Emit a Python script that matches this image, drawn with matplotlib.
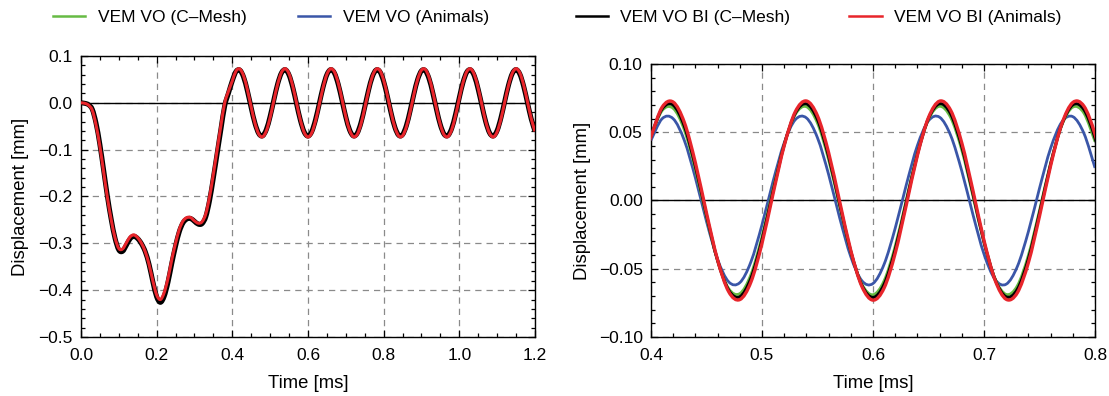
import numpy as np
import matplotlib
matplotlib.use("Agg")
import matplotlib.pyplot as plt
from matplotlib.path import Path
from matplotlib.patches import PathPatch
from matplotlib.lines import Line2D
from matplotlib.ticker import MultipleLocator, FuncFormatter

plt.rcParams["font.family"] = ["Liberation Sans", "DejaVu Sans"]
plt.rcParams["figure.facecolor"] = "white"

# --- data (time in ms, displacement in mm) ---
time_ms = np.linspace(0.0, 1.2, 121)

vo_bi_animals = [
    0.000, -0.001, -0.005, -0.016, -0.048, -0.093, -0.148, -0.203, -0.250, -0.288,
    -0.311, -0.312, -0.299, -0.286, -0.282, -0.288, -0.300, -0.318, -0.345, -0.380,
    -0.410, -0.420, -0.405, -0.375, -0.335, -0.300, -0.270, -0.252, -0.245, -0.245,
    -0.252, -0.257, -0.254, -0.237, -0.200, -0.152, -0.100, -0.048, 0.000, 0.025,
    0.0468, 0.0683, 0.0721, 0.0573, 0.0276, -0.0092, -0.0436, -0.0668, -0.0726, -0.0598,
    -0.0314, 0.0051, 0.0402, 0.0650, 0.0729, 0.0620, 0.0351, -0.0009, -0.0367, -0.0630,
    -0.0730, -0.0641, -0.0386, -0.0032, 0.0331, 0.0608, 0.0728, 0.0660, 0.0421, 0.0073,
    -0.0294, -0.0584, -0.0724, -0.0676, -0.0454, -0.0114, 0.0255, 0.0559, 0.0718, 0.0691,
    0.0485, 0.0154, -0.0216, -0.0531, -0.0709, -0.0703, -0.0515, -0.0195, 0.0177, 0.0502,
    0.0698, 0.0713, 0.0544, 0.0234, -0.0136, -0.0472, -0.0685, -0.0721, -0.0571, -0.0273,
    0.0096, 0.0439, 0.0669, 0.0726, 0.0595, 0.0311, -0.0054, -0.0406, -0.0652, -0.0729,
    -0.0618, -0.0347, 0.0013, 0.0370, 0.0632, 0.0730, 0.0639, 0.0383, 0.0028, -0.0334,
    -0.0610,
]

vo_bi_cmesh = [
    0.000, -0.001, -0.004, -0.014, -0.044, -0.089, -0.144, -0.200, -0.249, -0.289,
    -0.314, -0.317, -0.304, -0.290, -0.285, -0.290, -0.301, -0.318, -0.345, -0.382,
    -0.414, -0.426, -0.413, -0.383, -0.343, -0.306, -0.275, -0.256, -0.248, -0.247,
    -0.253, -0.259, -0.258, -0.243, -0.208, -0.160, -0.108, -0.056, -0.006, 0.021,
    0.0470, 0.0671, 0.0699, 0.0546, 0.0251, -0.0108, -0.0439, -0.0657, -0.0705, -0.0570,
    -0.0289, 0.0068, 0.0407, 0.0640, 0.0708, 0.0593, 0.0325, -0.0028, -0.0373, -0.0622,
    -0.0710, -0.0614, -0.0360, -0.0012, 0.0338, 0.0602, 0.0709, 0.0634, 0.0394, 0.0052,
    -0.0303, -0.0579, -0.0706, -0.0651, -0.0427, -0.0092, 0.0266, 0.0555, 0.0701, 0.0666,
    0.0458, 0.0132, -0.0228, -0.0529, -0.0694, -0.0679, -0.0488, -0.0171, 0.0190, 0.0502,
    0.0684, 0.0689, 0.0516, 0.0210, -0.0151, -0.0473, -0.0672, -0.0698, -0.0543, -0.0248,
    0.0111, 0.0442, 0.0658, 0.0704, 0.0568, 0.0285, -0.0071, -0.0410, -0.0642, -0.0708,
    -0.0591, -0.0321, 0.0031, 0.0376, 0.0624, 0.0710, 0.0613, 0.0357, 0.0009, -0.0342,
    -0.0604,
]

time_zoom_ms = np.linspace(0.4, 0.8, 41)

vo_cmesh = [
    0.0470, 0.0658, 0.0675, 0.0518, 0.0227, -0.0122, -0.0441, -0.0645, -0.0682, -0.0543,
    -0.0264, 0.0084, 0.0410, 0.0630, 0.0687, 0.0566, 0.0299, -0.0045, -0.0378, -0.0613,
    -0.0690, -0.0588, -0.0334, 0.0006, 0.0345, 0.0594, 0.0690, 0.0607, 0.0368, 0.0033,
    -0.0310, -0.0573, -0.0688, -0.0625, -0.0400, -0.0072, 0.0275, 0.0550, 0.0684, 0.0640,
    0.0431,
]

vo_animals = [
    0.0441, 0.0599, 0.0599, 0.0441, 0.0166, -0.0153, -0.0431, -0.0596, -0.0602, -0.0450,
    -0.0178, 0.0141, 0.0422, 0.0592, 0.0605, 0.0459, 0.0191, -0.0128, -0.0412, -0.0588,
    -0.0608, -0.0467, -0.0203, 0.0115, 0.0403, 0.0584, 0.0610, 0.0476, 0.0215, -0.0102,
    -0.0393, -0.0579, -0.0613, -0.0484, -0.0227, 0.0090, 0.0383, 0.0574, 0.0614, 0.0492,
    0.0239,
]

labels = ["VEM VO (C\u2013Mesh)", "VEM VO (Animals)",
          "VEM VO BI (C\u2013Mesh)", "VEM VO BI (Animals)"]
colors = ["#66bb44", "#3a56a8", "black", "#e8252b"]
# left edge of each legend entry, figure fraction
legend_x = [0.048, 0.269, 0.519, 0.766]


def smooth_line(ax, x, y, color, lw, zorder):
    # smooth curve through the data points (Catmull-Rom as cubic Bezier)
    pts = np.column_stack([x, y])
    ext = np.vstack([pts[0], pts, pts[-1]])
    verts = [pts[0]]
    codes = [Path.MOVETO]
    for i in range(len(pts) - 1):
        p0, p1, p2, p3 = ext[i], ext[i + 1], ext[i + 2], ext[i + 3]
        verts += [p1 + (p2 - p0) / 6, p2 - (p3 - p1) / 6, p2]
        codes += [Path.CURVE4] * 3
    ax.add_patch(PathPatch(Path(verts, codes), fill=False, edgecolor=color,
                           lw=lw, zorder=zorder, joinstyle="round"))


def fmt(decimals):
    return FuncFormatter(lambda v, _: f"{v:.{decimals}f}".replace("-", "\u2212"))


def style_axes(ax, xmaj, xmin, ymaj, ymin, xdec, ydec):
    ax.xaxis.set_major_locator(MultipleLocator(xmaj))
    ax.xaxis.set_minor_locator(MultipleLocator(xmin))
    ax.yaxis.set_major_locator(MultipleLocator(ymaj))
    ax.yaxis.set_minor_locator(MultipleLocator(ymin))
    ax.xaxis.set_major_formatter(fmt(xdec))
    ax.yaxis.set_major_formatter(fmt(ydec))
    ax.tick_params(which="both", direction="in", top=True, right=True,
                   width=0.9, labelsize=12.5)
    ax.tick_params(axis="x", pad=8)
    ax.tick_params(axis="y", pad=6)
    ax.tick_params(which="major", length=5)
    ax.tick_params(which="minor", length=3)
    for s in ax.spines.values():
        s.set_linewidth(1.0)
    ax.set_axisbelow(True)
    ax.grid(True, which="major", color="#8a8a8a", ls=(0, (5, 4)), lw=0.9)
    ax.axhline(0, color="black", lw=1.0, zorder=2)
    ax.set_xlabel("Time [ms]", fontsize=13.3)
    ax.set_ylabel("Displacement [mm]", fontsize=13.3)


fig = plt.figure(figsize=(11.09, 3.96), dpi=100)
ax1 = fig.add_axes([0.0730, 0.1490, 0.4094, 0.7096])
ax2 = fig.add_axes([0.5870, 0.1490, 0.4004, 0.6894])

# left: full response
smooth_line(ax1, time_ms, vo_bi_cmesh, colors[2], 3.6, 3)
smooth_line(ax1, time_ms, vo_bi_animals, colors[3], 2.2, 4)
ax1.set_xlim(0, 1.2)
ax1.set_ylim(-0.5, 0.1)
style_axes(ax1, 0.2, 0.05, 0.1, 0.02, 1, 1)
ax1.xaxis.set_label_coords(0.5, -0.135)
ax1.yaxis.set_label_coords(-0.115, 0.5)

# right: zoom on the steady oscillation
smooth_line(ax2, time_zoom_ms, vo_animals, colors[1], 2.0, 3)
smooth_line(ax2, time_zoom_ms, vo_cmesh, colors[0], 2.0, 3.5)
smooth_line(ax2, time_ms, vo_bi_cmesh, colors[2], 2.2, 4)
smooth_line(ax2, time_ms, vo_bi_animals, colors[3], 2.4, 4.5)
ax2.set_xlim(0.4, 0.8)
ax2.set_ylim(-0.1, 0.1)
style_axes(ax2, 0.1, 0.02, 0.05, 0.01, 1, 2)
ax2.xaxis.set_label_coords(0.5, -0.139)
ax2.yaxis.set_label_coords(-0.135, 0.5)

for c, lab, x in zip(colors, labels, legend_x):
    fig.legend([Line2D([], [], color=c, lw=1.8)], [lab], loc="center left",
               bbox_to_anchor=(x, 0.957), frameon=False, fontsize=12.5,
               borderpad=0, borderaxespad=0, handlelength=1.85, handletextpad=0.7)

fig.savefig("out.png", dpi=100)
